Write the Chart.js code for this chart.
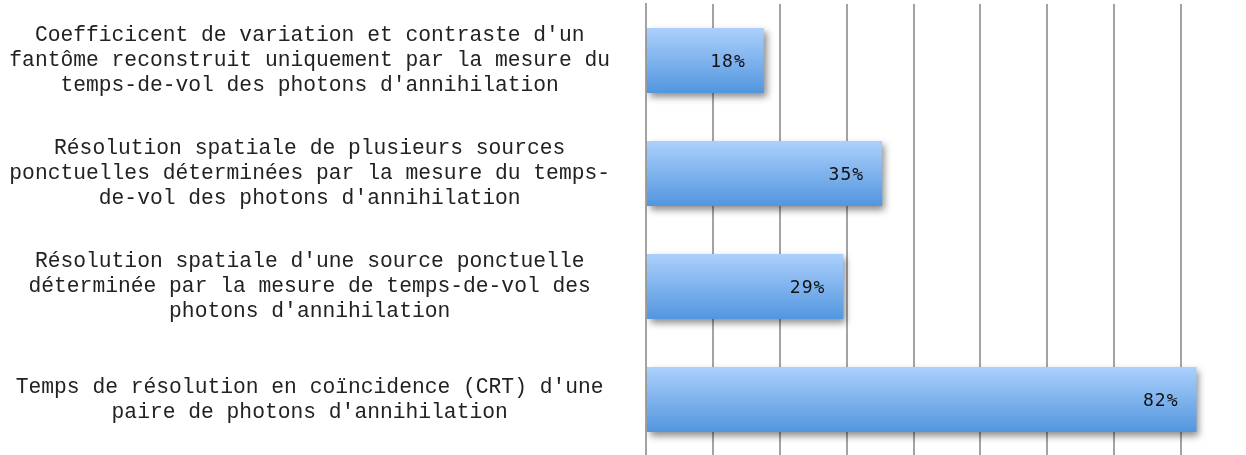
<!DOCTYPE html>
<html lang="fr">
<head>
<meta charset="UTF-8">
<title>Résultats</title>
<script src="https://cdn.jsdelivr.net/npm/chart.js"></script>
<style>
    html, body {
        margin: 0;
        padding: 0;
        background: #ffffff;
        overflow: hidden;
    }
    .wrap {
        width: 1254px;
        height: 456px;
    }
</style>
</head>
<body>
<div class="wrap"><canvas id="chart"></canvas></div>
<script>
    const categories = [
        ["Coefficicent de variation et contraste d'un", "fantôme reconstruit uniquement par la mesure du", "temps-de-vol des photons d'annihilation"],
        ["Résolution spatiale de plusieurs sources", "ponctuelles déterminées par la mesure du temps-", "de-vol des photons d'annihilation"],
        ["Résolution spatiale d'une source ponctuelle", "déterminée par la mesure de temps-de-vol des", "photons d'annihilation"],
        ["Temps de résolution en coïncidence (CRT) d'une", "paire de photons d'annihilation"]
    ];
    const values = [17.6, 35.3, 29.5, 82.3];
    const valueText = ['18%', '35%', '29%', '82%'];
    const xMin = 0;
    const xMax = 90;
    const xStep = 10;

    const barPct = 0.575;

    function barGradient(ctx) {
        const chart = ctx.chart;
        const y = chart.scales.y;
        if (!y || ctx.dataIndex === undefined) return '#7aaff0';
        const c = y.getPixelForValue(ctx.dataIndex);
        const half = (y.bottom - y.top) / categories.length * barPct / 2;
        if (!isFinite(c) || !isFinite(half) || half <= 0) return '#7aaff0';
        const g = chart.ctx.createLinearGradient(0, c - half, 0, c + half);
        g.addColorStop(0, '#acd0fc');
        g.addColorStop(1, '#5296df');
        return g;
    }

    const shadowPlugin = {
        id: 'barShadow',
        beforeDatasetDraw(chart) {
            const c = chart.ctx;
            c.save();
            c.shadowColor = 'rgba(0,0,0,0.45)';
            c.shadowBlur = 7;
            c.shadowOffsetX = 3;
            c.shadowOffsetY = 4;
        },
        afterDatasetDraw(chart) {
            chart.ctx.restore();
        }
    };

    const valueLabels = {
        id: 'valueLabels',
        afterDatasetsDraw(chart) {
            const c = chart.ctx;
            const meta = chart.getDatasetMeta(0);
            c.save();
            c.font = '18px "DejaVu Sans Mono", monospace';
            c.letterSpacing = '1px';
            c.fillStyle = '#111111';
            c.textAlign = 'right';
            c.textBaseline = 'middle';
            meta.data.forEach((bar, i) => {
                c.fillText(valueText[i], bar.x - 18, bar.y + 2);
            });
            c.restore();
        }
    };

    new Chart(document.getElementById('chart'), {
        type: 'bar',
        data: {
            labels: categories,
            datasets: [{
                data: values,
                backgroundColor: barGradient,
                borderWidth: 0,
                barPercentage: barPct,
                categoryPercentage: 1
            }]
        },
        options: {
            indexAxis: 'y',
            responsive: true,
            maintainAspectRatio: false,
            animation: false,
            layout: { padding: { top: 4, left: 0, right: 6, bottom: 0 } },
            plugins: {
                legend: { display: false },
                tooltip: { enabled: false }
            },
            scales: {
                x: {
                    min: xMin,
                    max: xMax,
                    ticks: { display: false, stepSize: xStep },
                    grid: { color: '#a3a3a3', lineWidth: 2, drawTicks: false },
                    border: { display: false },
                    afterFit(s) {
                        s.height = 0;
                        s.paddingLeft = 0;
                        s.paddingRight = 0;
                    }
                },
                y: {
                    grid: { display: false, drawTicks: false },
                    border: { display: true, color: '#a3a3a3', width: 2 },
                    ticks: {
                        crossAlign: 'center',
                        padding: 36,
                        color: '#222222',
                        font: { family: '"Liberation Mono", "Courier New", monospace', size: 21.3, lineHeight: 1.16 }
                    },
                    afterFit(s) {
                        s.width = 646;
                        s.paddingTop = 0;
                        s.paddingBottom = 0;
                    }
                }
            }
        },
        plugins: [shadowPlugin, valueLabels]
    });
</script>
</body>
</html>
